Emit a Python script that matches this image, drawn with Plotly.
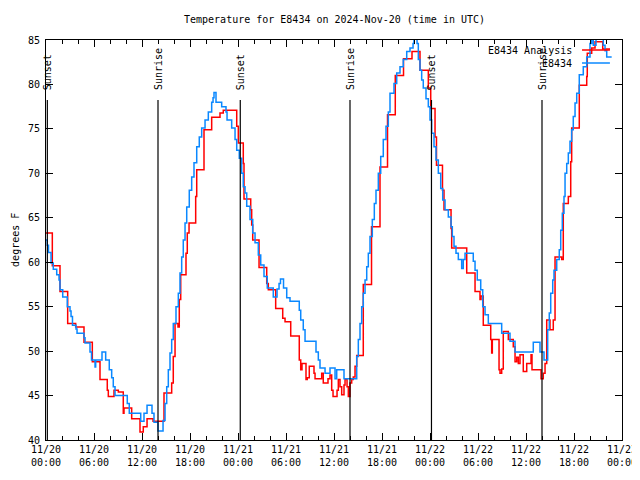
import pandas as pd
import plotly.graph_objects as go

TITLE = "Temperature for E8434 on 2024-Nov-20 (time in UTC)"
Y_TITLE = "degrees F"
START = "2024-11-20 00:00"
END = "2024-11-23 00:00"

analysis_name = "E8434 Analysis"
obs_name = "E8434"

# hours after 2024-11-20 00:00 UTC, temperatures in degrees F
obs_hours = [0.0, 0.16, 0.31, 0.63, 0.91, 1.34, 1.63, 1.75, 2.09, 2.66, 3.0, 3.13, 3.31, 3.75, 3.88,
             4.75, 4.88, 5.5, 5.69, 6.13, 6.21, 7.0, 7.46, 7.91, 8.21, 8.41, 8.63, 10.16, 10.41,
             11.84, 12.25, 12.63, 13.25, 13.5, 14.0, 14.63, 14.88, 15.09, 15.29, 15.5, 15.71,
             15.91, 16.25, 16.54, 16.75, 16.96, 17.16, 17.38, 17.59, 17.91, 18.21, 18.5, 18.84,
             19.16, 19.46, 19.88, 20.29, 20.71, 20.88, 21.0, 21.25, 21.96, 22.5, 22.63, 23.21,
             23.63, 23.84, 24.16, 24.46, 24.66, 24.88, 25.09, 25.5, 25.84, 26.13, 26.54, 26.84,
             27.25, 27.66, 28.41, 28.88, 29.13, 29.31, 29.69, 30.09, 30.5, 31.66, 31.84, 32.16,
             32.38, 33.75, 34.04, 34.25, 34.88, 35.5, 36.13, 36.34, 37.25, 38.84, 39.04, 39.25,
             39.46, 39.66, 39.88, 40.09, 40.29, 40.5, 40.79, 41.04, 41.25, 41.54, 41.84, 42.16,
             42.5, 42.79, 43.0, 43.5, 43.84, 44.25, 44.66, 45.09, 45.5, 45.88, 46.0, 46.38,
             46.54, 46.75, 46.96, 47.16, 47.5, 47.79, 48.0, 48.21, 48.5, 48.75, 49.04, 49.34,
             49.59, 49.88, 50.29, 50.63, 50.79, 51.0, 51.25, 51.54, 51.96, 52.16, 52.38, 53.41,
             53.63, 53.91, 54.34, 54.59, 54.88, 55.29, 56.96, 58.0, 58.63, 60.91, 61.75, 62.25,
             62.71, 62.91, 63.09, 63.34, 63.5, 63.84, 64.16, 64.34, 64.54, 64.75, 64.88, 65.09,
             65.29, 65.5, 65.71, 65.91, 66.13, 66.34, 66.66, 67.16, 67.59, 68.0, 68.21, 68.41,
             68.75, 69.66, 69.88, 70.09, 70.71]
obs_temp = [62.5, 61.9, 61.1, 59.9, 59.2, 58.6, 58.0, 56.9, 56.1, 55.0, 54.5, 53.9, 52.9, 52.5, 52.0,
            51.5, 50.9, 49.9, 49.0, 48.2, 49.0, 49.9, 49.0, 47.9, 47.0, 46.0, 45.0, 44.1, 43.0,
            42.1, 43.0, 43.9, 43.0, 42.0, 41.0, 42.2, 44.1, 46.0, 47.9, 49.8, 51.3,
            53.1, 55.0, 56.5, 58.8, 60.6, 62.5, 64.4, 66.2, 68.1, 69.6, 71.2, 73.0,
            74.1, 75.1, 76.0, 76.9, 78.0, 78.5, 79.1, 78.0, 77.5, 76.9, 76.0, 75.1,
            73.8, 72.6, 71.7, 70.0, 68.5, 67.8, 66.3, 64.8, 63.3, 62.2, 60.8, 59.7,
            58.4, 57.1, 56.1, 57.0, 57.6, 58.1, 57.1, 56.0, 55.6, 54.6, 53.5, 52.4,
            51.1, 49.9, 49.0, 48.1, 47.5, 48.1, 46.9, 47.9, 46.9, 49.4, 51.3, 53.1,
            55.0, 56.5, 58.0, 59.5, 61.0, 62.9, 64.8, 66.6, 68.1, 70.0, 71.9, 73.8,
            75.3, 76.9, 79.0, 80.1, 81.3, 82.0, 82.8, 83.7, 84.1, 84.6, 85.4, 84.6,
            82.8, 81.6, 80.5, 79.6, 78.4, 77.5, 76.0, 74.5, 73.0, 71.5, 70.0, 68.3,
            67.0, 65.9, 65.1, 64.0, 62.9, 61.8, 61.0, 60.3, 59.3, 60.3, 61.0, 60.1,
            59.1, 58.0, 56.9, 55.0, 54.1, 53.1, 52.0, 51.1, 49.9, 51.0, 49.9, 49.0,
            52.4, 54.3, 56.5, 58.0, 59.1, 60.3, 61.4, 63.6, 65.5, 67.4, 70.0, 71.1,
            72.3, 73.6, 74.9, 76.4, 77.9, 79.0, 81.1, 82.0, 83.1, 84.6, 85.5, 84.4,
            85.5, 84.4, 83.8, 83.1, 83.1]

ana_hours = [0.0, 0.79, 1.75, 2.71, 3.71, 4.75, 5.79, 6.75, 7.66, 7.79, 8.5, 9.04, 9.66, 9.75,
             10.71, 11.75, 12.16, 12.63, 13.38, 14.75, 15.71, 15.91, 16.13, 16.5, 16.66, 16.84,
             17.5, 17.66, 17.88, 18.71, 18.84, 19.75, 20.71, 21.75, 22.16, 23.84, 24.04, 24.66,
             24.75, 25.59, 25.71, 25.84, 26.63, 27.59, 27.79, 28.71, 29.59, 29.88, 30.59, 31.66,
             31.84, 32.0, 32.5, 32.66, 32.91, 33.5, 33.63, 34.46, 34.66, 35.25, 35.5, 35.71,
             35.88, 36.38, 36.54, 36.75, 36.96, 37.25, 37.38, 37.63, 37.79, 38.0, 38.21, 38.41,
             38.63, 38.84, 39.66, 40.69, 41.75, 42.69, 43.66, 44.69, 45.75, 46.75, 47.79, 48.09,
             48.63, 48.81, 49.56, 49.75, 50.63, 50.71, 52.59, 53.63, 54.25, 54.38, 54.66, 55.59,
             55.71, 55.79, 56.63, 56.75, 56.96, 57.16, 57.79, 58.41, 58.63, 58.84, 59.04, 59.25,
             59.66, 60.09, 60.63, 60.75, 61.88, 62.16, 62.38, 62.59, 63.0, 63.41, 63.63, 64.46,
             64.66, 65.29, 65.59, 65.71, 66.66, 67.59, 67.66, 68.21, 68.63, 69.59, 70.5]
ana_temp = [63.3, 59.6, 56.7, 53.1, 52.7, 51.0, 48.8, 46.8, 45.6, 44.9, 45.6, 45.4, 43.0, 43.6,
            42.4, 40.9, 41.5, 42.4, 42.1, 45.3, 46.4, 49.4, 53.1, 52.7, 55.8, 58.6,
            61.0, 63.3, 64.4, 67.4, 70.4, 74.9, 76.3, 76.8, 77.1, 75.3, 73.4, 71.1,
            67.1, 65.9, 64.2, 62.5, 59.4, 57.6, 56.9, 54.8, 53.7, 53.3, 51.7, 49.0,
            47.9, 48.6, 46.8, 47.0, 48.3, 47.5, 46.9, 47.5, 46.4, 46.9, 47.3, 45.6,
            44.9, 45.6, 46.8, 46.0, 45.1, 46.2, 46.8, 46.0, 44.9, 46.4, 46.8, 47.1,
            48.3, 49.5, 57.5, 64.0, 70.7, 76.6, 81.0, 82.9, 83.7, 81.6, 79.6, 77.3,
            74.1, 70.9, 68.1, 65.9, 63.8, 61.6, 58.8, 56.7, 55.8, 56.2, 52.9, 51.3,
            49.8, 51.3, 47.9, 47.5, 48.0, 52.2, 51.3, 50.5, 48.8, 49.3, 48.6, 49.6,
            47.7, 48.6, 49.6, 47.9, 46.9, 47.5, 48.6, 53.5, 52.4, 53.5, 60.6, 60.3,
            66.6, 67.4, 71.3, 75.1, 79.9, 80.9, 83.5, 84.1, 84.8, 84.0, 84.0]

sun_events = ["Sunset", "Sunrise", "Sunset", "Sunrise", "Sunset", "Sunrise"]
sun_times = ["2024-11-20 00:10", "2024-11-20 14:00", "2024-11-21 00:17",
             "2024-11-21 14:00", "2024-11-22 00:11", "2024-11-22 14:00"]

y_ticks = [40, 45, 50, 55, 60, 65, 70, 75, 80, 85]

base = pd.Timestamp(START)
obs_t = base + pd.to_timedelta(obs_hours, unit="h")
ana_t = base + pd.to_timedelta(ana_hours, unit="h")

RED = "#ff0000"
BLUE = "#0a88ff"
FONT = "DejaVu Sans Mono"

fig = go.Figure()
fig.add_trace(go.Scatter(x=ana_t, y=ana_temp, mode="lines", name=analysis_name,
                         line=dict(color=RED, width=1.5, shape="hv")))
fig.add_trace(go.Scatter(x=obs_t, y=obs_temp, mode="lines", name=obs_name,
                         line=dict(color=BLUE, width=1.5, shape="hv")))

shapes = []
annotations = []
for name, t in zip(sun_events, sun_times):
    shapes.append(dict(type="line", xref="x", yref="paper", x0=t, x1=t, y0=0, y1=0.85,
                       line=dict(color="black", width=1.2)))
    annotations.append(dict(x=t, y=0.87, xref="x", yref="paper", text=name, showarrow=False,
                            textangle=-90, xanchor="center", yanchor="bottom",
                            font=dict(family=FONT, size=10, color="black")))

# gnuplot-style legend: text right-aligned, sample line to the right
for i, (name, col) in enumerate([(analysis_name, RED), (obs_name, BLUE)]):
    yy = 0.975 - i * 0.0325
    annotations.append(dict(x=0.917, y=yy, xref="paper", yref="paper", text=name, showarrow=False,
                            xanchor="right", yanchor="middle",
                            font=dict(family=FONT, size=10, color="black")))
    shapes.append(dict(type="line", xref="paper", yref="paper", x0=0.9306, x1=0.979, y0=yy, y1=yy,
                       line=dict(color=col, width=1.5)))

annotations.append(dict(x=-0.054, y=0.5, xref="paper", yref="paper", text=Y_TITLE, showarrow=False,
                        textangle=-90, xanchor="center", yanchor="middle",
                        font=dict(family=FONT, size=10, color="black")))
annotations.append(dict(x=0.5, y=1.0 + 21 / 400, xref="paper", yref="paper", text=TITLE,
                        showarrow=False, xanchor="center", yanchor="middle",
                        font=dict(family=FONT, size=10, color="black")))

# the page body adds an 8px offset, so the figure is 8px smaller and margins compensate
fig.update_layout(
    template="none",
    width=632, height=472,
    margin=dict(l=38, r=18, t=32, b=40),
    paper_bgcolor="white", plot_bgcolor="white",
    showlegend=False,
    shapes=shapes, annotations=annotations,
    font=dict(family=FONT, size=10, color="black"),
)
fig.update_xaxes(
    range=[START, END], type="date", automargin=False, ticklabeloverflow="allow",
    tick0=START, dtick=6 * 3600 * 1000, tickformat="%m/%d<br>%H:%M",
    ticks="inside", ticklen=7, tickcolor="black",
    minor=dict(dtick=2 * 3600 * 1000, ticks="inside", ticklen=4, tickcolor="black"),
    showline=True, linecolor="black", linewidth=1, mirror="allticks",
    showgrid=False, zeroline=False,
)
fig.update_yaxes(
    range=[40, 85], tickvals=y_ticks, automargin=False,
    ticks="inside", ticklen=7, tickcolor="black",
    showline=True, linecolor="black", linewidth=1, mirror="allticks",
    showgrid=False, zeroline=False, ticklabelstandoff=3,
)

fig.write_html("out.html")
